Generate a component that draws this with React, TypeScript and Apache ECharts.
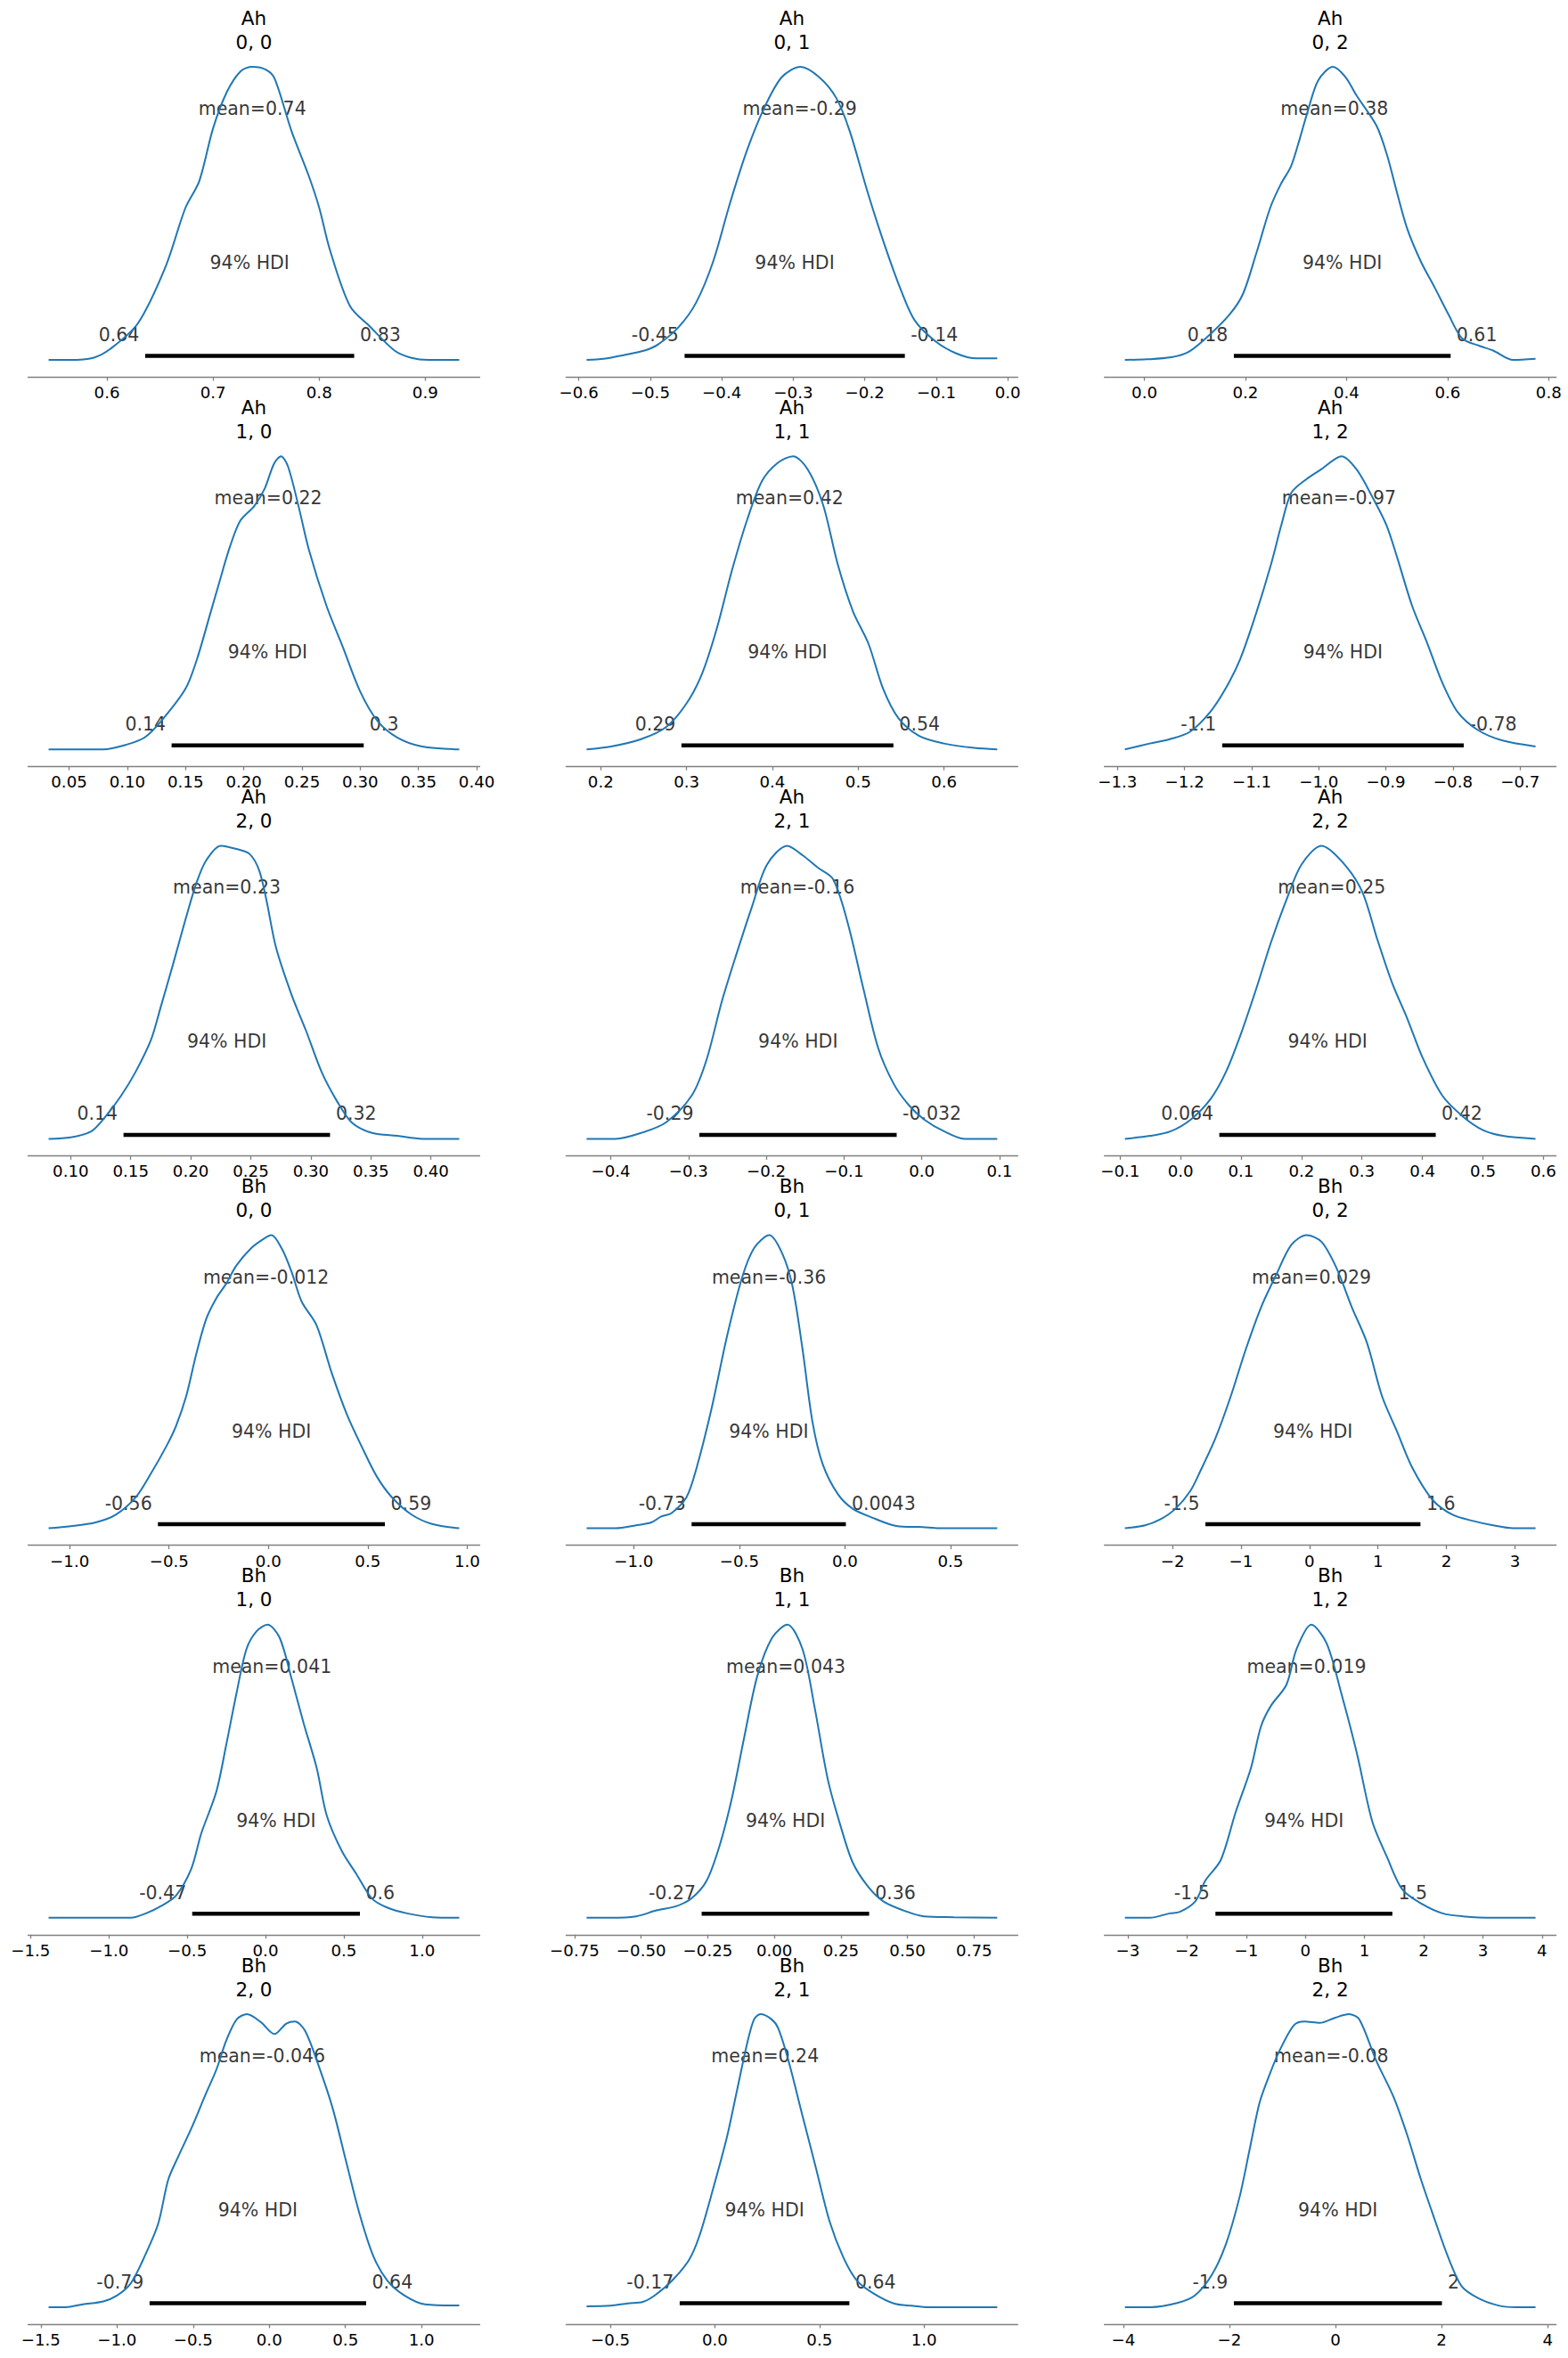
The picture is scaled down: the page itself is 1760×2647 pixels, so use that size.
import React, { useEffect, useRef } from "react";
import * as echarts from "echarts";

// ---------- data ----------
const varNames = ["Ah", "Ah", "Ah", "Ah", "Ah", "Ah", "Ah", "Ah", "Ah", "Bh", "Bh", "Bh", "Bh", "Bh", "Bh", "Bh", "Bh", "Bh"];
const coordLabels = ["0, 0", "0, 1", "0, 2", "1, 0", "1, 1", "1, 2", "2, 0", "2, 1", "2, 2", "0, 0", "0, 1", "0, 2", "1, 0", "1, 1", "1, 2", "2, 0", "2, 1", "2, 2"];
const means = [0.737, -0.291, 0.376, 0.221, 0.42, -0.97, 0.23, -0.16, 0.25, -0.012, -0.36, 0.029, 0.041, 0.043, 0.019, -0.046, 0.24, -0.08];
const hdiLow = [0.636, -0.452, 0.177, 0.138, 0.294, -1.144, 0.144, -0.286, 0.0641, -0.556, -0.726, -1.52, -0.468, -0.273, -1.52, -0.786, -0.168, -1.916];
const hdiHigh = [0.833, -0.144, 0.606, 0.303, 0.541, -0.784, 0.316, -0.0323, 0.422, 0.586, 0.0043, 1.62, 0.603, 0.356, 1.47, 0.636, 0.643, 2.006];

const ticks_Ah_0_0 = [0.6, 0.7, 0.8, 0.9];
const ticks_Ah_0_1 = [-0.6, -0.5, -0.4, -0.3, -0.2, -0.1, 0.0];
const ticks_Ah_0_2 = [0.0, 0.2, 0.4, 0.6, 0.8];
const ticks_Ah_1_0 = [0.05, 0.1, 0.15, 0.2, 0.25, 0.3, 0.35, 0.4];
const ticks_Ah_1_1 = [0.2, 0.3, 0.4, 0.5, 0.6];
const ticks_Ah_1_2 = [-1.3, -1.2, -1.1, -1.0, -0.9, -0.8, -0.7];
const ticks_Ah_2_0 = [0.1, 0.15, 0.2, 0.25, 0.3, 0.35, 0.4];
const ticks_Ah_2_1 = [-0.4, -0.3, -0.2, -0.1, 0.0, 0.1];
const ticks_Ah_2_2 = [-0.1, 0.0, 0.1, 0.2, 0.3, 0.4, 0.5, 0.6];
const ticks_Bh_0_0 = [-1.0, -0.5, 0.0, 0.5, 1.0];
const ticks_Bh_0_1 = [-1.0, -0.5, 0.0, 0.5];
const ticks_Bh_0_2 = [-2, -1, 0, 1, 2, 3];
const ticks_Bh_1_0 = [-1.5, -1.0, -0.5, 0.0, 0.5, 1.0];
const ticks_Bh_1_1 = [-0.75, -0.5, -0.25, 0.0, 0.25, 0.5, 0.75];
const ticks_Bh_1_2 = [-3, -2, -1, 0, 1, 2, 3, 4];
const ticks_Bh_2_0 = [-1.5, -1.0, -0.5, 0.0, 0.5, 1.0];
const ticks_Bh_2_1 = [-0.5, 0.0, 0.5, 1.0];
const ticks_Bh_2_2 = [-4, -2, 0, 2, 4];
const tickDecimals = [1, 1, 1, 2, 1, 1, 2, 1, 1, 1, 1, 0, 1, 2, 0, 1, 1, 0];

// relative density (peak = 1) along x
const kde_Ah_0_0 = [[0.545, 0], [0.5645, 0], [0.587, 0.007], [0.603, 0.037], [0.629, 0.124], [0.655, 0.316], [0.674, 0.519], [0.687, 0.61], [0.7, 0.79], [0.713, 0.914], [0.726, 0.985], [0.737, 1], [0.75, 0.99], [0.758, 0.96], [0.774, 0.78], [0.79, 0.63], [0.8, 0.52], [0.81, 0.377], [0.829, 0.184], [0.848, 0.113], [0.871, 0.032], [0.887, 0.007], [0.903, 0], [0.932, 0]];
const kde_Ah_0_1 = [[-0.589, 0], [-0.565, 0.004], [-0.536, 0.017], [-0.508, 0.032], [-0.489, 0.053], [-0.46, 0.113], [-0.436, 0.195], [-0.412, 0.336], [-0.388, 0.539], [-0.364, 0.72], [-0.34, 0.863], [-0.316, 0.965], [-0.29, 1], [-0.264, 0.965], [-0.24, 0.894], [-0.221, 0.78], [-0.197, 0.58], [-0.173, 0.397], [-0.149, 0.235], [-0.13, 0.134], [-0.101, 0.063], [-0.072, 0.022], [-0.044, 0.005], [-0.0148, 0.005]];
const kde_Ah_0_2 = [[-0.0386, 0], [0.005, 0.002], [0.053, 0.009], [0.087, 0.027], [0.121, 0.073], [0.168, 0.154], [0.195, 0.225], [0.222, 0.367], [0.249, 0.519], [0.27, 0.6], [0.29, 0.66], [0.307, 0.752], [0.324, 0.853], [0.344, 0.954], [0.373, 1], [0.398, 0.965], [0.419, 0.904], [0.459, 0.8], [0.48, 0.7], [0.5, 0.57], [0.52, 0.448], [0.547, 0.336], [0.575, 0.245], [0.602, 0.154], [0.629, 0.073], [0.663, 0.048], [0.69, 0.032], [0.73, 0], [0.774, 0.004]];
const kde_Ah_1_0 = [[0.0324, 0], [0.0676, 0], [0.0794, 0], [0.1, 0.017], [0.1147, 0.04], [0.129, 0.096], [0.15, 0.207], [0.16, 0.31], [0.171, 0.46], [0.179, 0.57], [0.188, 0.69], [0.197, 0.78], [0.209, 0.83], [0.218, 0.89], [0.226, 0.975], [0.232, 1], [0.238, 0.965], [0.247, 0.83], [0.256, 0.68], [0.271, 0.49], [0.285, 0.35], [0.3, 0.197], [0.315, 0.096], [0.332, 0.04], [0.353, 0.01], [0.385, 0]];
const kde_Ah_1_1 = [[0.1835, 0], [0.212, 0.01], [0.247, 0.035], [0.276, 0.076], [0.3, 0.157], [0.318, 0.258], [0.335, 0.41], [0.353, 0.612], [0.371, 0.787], [0.388, 0.916], [0.406, 0.977], [0.424, 1], [0.441, 0.956], [0.459, 0.835], [0.476, 0.633], [0.494, 0.47], [0.512, 0.36], [0.529, 0.207], [0.547, 0.106], [0.571, 0.046], [0.6, 0.02], [0.635, 0.005], [0.662, 0]];
const kde_Ah_1_2 = [[-1.289, 0], [-1.252, 0.02], [-1.222, 0.035], [-1.192, 0.06], [-1.162, 0.127], [-1.139, 0.207], [-1.117, 0.309], [-1.094, 0.46], [-1.071, 0.633], [-1.056, 0.764], [-1.041, 0.875], [-1.019, 0.921], [-0.996, 0.956], [-0.966, 1], [-0.944, 0.956], [-0.921, 0.865], [-0.899, 0.764], [-0.883, 0.653], [-0.861, 0.49], [-0.838, 0.36], [-0.816, 0.228], [-0.793, 0.127], [-0.763, 0.066], [-0.726, 0.03], [-0.677, 0.01]];
const kde_Ah_2_0 = [[0.0816, 0], [0.1, 0.005], [0.117, 0.025], [0.129, 0.076], [0.142, 0.147], [0.154, 0.228], [0.167, 0.339], [0.175, 0.45], [0.185, 0.592], [0.196, 0.754], [0.205, 0.876], [0.213, 0.951], [0.225, 1], [0.238, 0.989], [0.249, 0.972], [0.257, 0.916], [0.263, 0.815], [0.271, 0.653], [0.284, 0.491], [0.296, 0.369], [0.309, 0.228], [0.322, 0.127], [0.334, 0.056], [0.351, 0.02], [0.372, 0.01], [0.393, 0], [0.4236, 0]];
const kde_Ah_2_1 = [[-0.431, 0], [-0.394, 0], [-0.361, 0.02], [-0.329, 0.056], [-0.296, 0.147], [-0.277, 0.268], [-0.257, 0.47], [-0.238, 0.633], [-0.218, 0.795], [-0.199, 0.936], [-0.173, 1], [-0.153, 0.967], [-0.134, 0.926], [-0.114, 0.886], [-0.095, 0.734], [-0.075, 0.511], [-0.056, 0.309], [-0.036, 0.187], [-0.017, 0.116], [0.003, 0.066], [0.029, 0.025], [0.055, 0], [0.097, 0]];
const kde_Ah_2_2 = [[-0.092, 0], [-0.05, 0.01], [-0.017, 0.025], [0.017, 0.066], [0.05, 0.137], [0.075, 0.228], [0.1, 0.359], [0.125, 0.511], [0.15, 0.673], [0.175, 0.815], [0.2, 0.936], [0.233, 1], [0.267, 0.946], [0.3, 0.845], [0.325, 0.683], [0.35, 0.531], [0.375, 0.41], [0.4, 0.278], [0.433, 0.147], [0.467, 0.076], [0.5, 0.03], [0.533, 0.01], [0.587, 0]];
const kde_Bh_0_0 = [[-1.106, 0], [-0.995, 0.007], [-0.869, 0.02], [-0.768, 0.046], [-0.667, 0.106], [-0.591, 0.187], [-0.515, 0.278], [-0.465, 0.349], [-0.414, 0.45], [-0.364, 0.592], [-0.313, 0.714], [-0.263, 0.784], [-0.212, 0.835], [-0.162, 0.896], [-0.086, 0.956], [-0.025, 0.987], [0.015, 1], [0.066, 0.956], [0.116, 0.876], [0.167, 0.774], [0.242, 0.693], [0.318, 0.531], [0.394, 0.39], [0.47, 0.278], [0.545, 0.177], [0.621, 0.106], [0.722, 0.046], [0.823, 0.015], [0.96, 0]];
const kde_Bh_0_1 = [[-1.223, 0], [-1.085, 0], [-0.989, 0.01], [-0.917, 0.02], [-0.87, 0.04], [-0.822, 0.051], [-0.75, 0.106], [-0.702, 0.207], [-0.631, 0.41], [-0.559, 0.653], [-0.487, 0.855], [-0.43, 0.956], [-0.358, 1], [-0.296, 0.936], [-0.248, 0.825], [-0.201, 0.612], [-0.153, 0.36], [-0.105, 0.218], [-0.033, 0.116], [0.038, 0.066], [0.134, 0.035], [0.229, 0.01], [0.301, 0.005], [0.349, 0.005], [0.444, 0], [0.721, 0]];
const kde_Bh_0_2 = [[-2.695, 0], [-2.4, 0.01], [-2.18, 0.03], [-1.96, 0.066], [-1.74, 0.127], [-1.59, 0.197], [-1.37, 0.309], [-1.15, 0.45], [-0.928, 0.612], [-0.707, 0.754], [-0.486, 0.865], [-0.265, 0.967], [-0.044, 1], [0.177, 0.977], [0.398, 0.886], [0.619, 0.754], [0.839, 0.633], [1.06, 0.45], [1.28, 0.329], [1.5, 0.207], [1.8, 0.096], [2.09, 0.046], [2.39, 0.025], [2.68, 0.01], [2.97, 0], [3.3, 0]];
const kde_Bh_1_0 = [[-1.385, 0], [-1.18, 0], [-0.987, 0], [-0.859, 0], [-0.763, 0.015], [-0.667, 0.04], [-0.571, 0.076], [-0.474, 0.167], [-0.41, 0.288], [-0.314, 0.43], [-0.25, 0.592], [-0.186, 0.764], [-0.122, 0.916], [-0.058, 0.977], [0.013, 1], [0.09, 0.956], [0.167, 0.815], [0.244, 0.663], [0.327, 0.511], [0.391, 0.349], [0.487, 0.228], [0.583, 0.147], [0.679, 0.066], [0.776, 0.035], [0.904, 0.015], [1.064, 0.002], [1.237, 0]];
const kde_Bh_1_1 = [[-0.705, 0], [-0.614, 0], [-0.519, 0.005], [-0.443, 0.025], [-0.367, 0.04], [-0.311, 0.066], [-0.254, 0.127], [-0.205, 0.248], [-0.159, 0.41], [-0.114, 0.612], [-0.064, 0.825], [-0.008, 0.956], [0.049, 1], [0.106, 0.916], [0.152, 0.714], [0.201, 0.471], [0.25, 0.309], [0.295, 0.187], [0.352, 0.106], [0.409, 0.056], [0.485, 0.025], [0.561, 0.005], [0.674, 0.002], [0.837, 0]];
const kde_Bh_1_2 = [[-3.05, 0], [-2.63, 0], [-2.29, 0.015], [-2.12, 0.02], [-1.86, 0.056], [-1.69, 0.127], [-1.43, 0.197], [-1.18, 0.359], [-0.92, 0.511], [-0.75, 0.653], [-0.58, 0.724], [-0.32, 0.795], [-0.15, 0.916], [0.1, 1], [0.36, 0.936], [0.61, 0.764], [0.87, 0.562], [1.13, 0.329], [1.38, 0.207], [1.64, 0.096], [1.98, 0.046], [2.32, 0.015], [2.66, 0.005], [3.17, 0], [3.89, 0]];
const kde_Bh_2_0 = [[-1.449, 0], [-1.336, 0], [-1.224, 0.01], [-1.09, 0.02], [-1.0, 0.04], [-0.91, 0.081], [-0.82, 0.172], [-0.73, 0.284], [-0.663, 0.436], [-0.595, 0.517], [-0.505, 0.618], [-0.416, 0.729], [-0.348, 0.81], [-0.281, 0.912], [-0.213, 0.983], [-0.146, 1], [-0.056, 0.973], [0.034, 0.932], [0.112, 0.968], [0.168, 0.975], [0.236, 0.942], [0.326, 0.821], [0.416, 0.679], [0.505, 0.496], [0.595, 0.314], [0.685, 0.172], [0.775, 0.091], [0.888, 0.04], [1.022, 0.01], [1.247, 0.006]];
const kde_Bh_2_1 = [[-0.613, 0.003], [-0.499, 0.005], [-0.417, 0.013], [-0.344, 0.018], [-0.286, 0.041], [-0.204, 0.091], [-0.123, 0.162], [-0.074, 0.243], [-0.008, 0.405], [0.057, 0.578], [0.106, 0.74], [0.155, 0.902], [0.188, 0.983], [0.218, 1], [0.27, 0.983], [0.303, 0.952], [0.352, 0.841], [0.417, 0.659], [0.483, 0.476], [0.548, 0.294], [0.613, 0.172], [0.679, 0.091], [0.761, 0.046], [0.859, 0.012], [0.94, 0.005], [1.022, 0], [1.186, 0], [1.35, 0]];
const kde_Bh_2_2 = [[-3.97, 0], [-3.49, 0], [-2.97, 0.015], [-2.65, 0.04], [-2.33, 0.111], [-2.07, 0.213], [-1.81, 0.375], [-1.62, 0.537], [-1.43, 0.699], [-1.23, 0.8], [-1.04, 0.881], [-0.78, 0.963], [-0.587, 0.975], [-0.297, 0.97], [-0.006, 0.988], [0.252, 1], [0.445, 0.983], [0.768, 0.841], [1.09, 0.719], [1.35, 0.588], [1.61, 0.436], [1.86, 0.304], [2.12, 0.172], [2.38, 0.071], [2.7, 0.03], [3.09, 0.005], [3.41, 0], [3.77, 0]];

const kdes = [kde_Ah_0_0, kde_Ah_0_1, kde_Ah_0_2, kde_Ah_1_0, kde_Ah_1_1, kde_Ah_1_2, kde_Ah_2_0, kde_Ah_2_1, kde_Ah_2_2, kde_Bh_0_0, kde_Bh_0_1, kde_Bh_0_2, kde_Bh_1_0, kde_Bh_1_1, kde_Bh_1_2, kde_Bh_2_0, kde_Bh_2_1, kde_Bh_2_2];
const ticks = [ticks_Ah_0_0, ticks_Ah_0_1, ticks_Ah_0_2, ticks_Ah_1_0, ticks_Ah_1_1, ticks_Ah_1_2, ticks_Ah_2_0, ticks_Ah_2_1, ticks_Ah_2_2, ticks_Bh_0_0, ticks_Bh_0_1, ticks_Bh_0_2, ticks_Bh_1_0, ticks_Bh_1_1, ticks_Bh_1_2, ticks_Bh_2_0, ticks_Bh_2_1, ticks_Bh_2_2];

// ---------- layout ----------
const W = 1760;
const H = 2647;
const COL_LEFT = [31.5, 635.4, 1239.6];
const GRID_W = 507;
const AXIS_Y0 = 423;
const ROW_STEP = 437.2;
const PX_PER_UNIT = 329;
const BASE_OFF = 19;
const GRID_H = 365;
const FONT = "DejaVu Sans";
const Y_MEAN = 282 / PX_PER_UNIT;
const Y_HDI = 109 / PX_PER_UNIT;
const Y_VAL = 28 / PX_PER_UNIT;
const Y_BAR = 4.5 / PX_PER_UNIT;

const fmtSig = (v: number) => String(Number(v.toPrecision(2)));

function buildOption() {
  const grid: any[] = [];
  const xAxis: any[] = [];
  const yAxis: any[] = [];
  const series: any[] = [];
  const graphic: any[] = [];

  kdes.forEach((kde, i) => {
    const r = Math.floor(i / 3);
    const c = i % 3;
    const A = AXIS_Y0 + r * ROW_STEP;
    const xs = kde.map((p) => p[0]);
    const lo = Math.min(...xs);
    const hi = Math.max(...xs);
    const pad = 0.05 * (hi - lo);
    const dec = tickDecimals[i];

    grid.push({ left: COL_LEFT[c], top: A - GRID_H, width: GRID_W, height: GRID_H });
    xAxis.push({
      gridIndex: i,
      type: "value",
      min: lo - pad,
      max: hi + pad,
      axisLine: { show: true, onZero: false, lineStyle: { color: "#808080", width: 1.3 } },
      axisTick: { show: true, customValues: ticks[i], length: 4.5, lineStyle: { color: "#808080", width: 1.3 } },
      axisLabel: {
        show: true,
        customValues: ticks[i],
        formatter: (v: number) => v.toFixed(dec).replace("-", "\u2212"),
        fontSize: 18.2,
        fontFamily: FONT,
        color: "#000",
        margin: 8.5,
      },
      splitLine: { show: false },
    });
    yAxis.push({
      gridIndex: i,
      type: "value",
      min: -BASE_OFF / PX_PER_UNIT,
      max: (GRID_H - BASE_OFF) / PX_PER_UNIT,
      show: false,
    });

    series.push({
      type: "line",
      xAxisIndex: i,
      yAxisIndex: i,
      data: kde,
      symbol: "none",
      showSymbol: false,
      smooth: 0.3,
      clip: false,
      silent: true,
      lineStyle: { color: "#1f77b4", width: 2 },
    });
    series.push({
      type: "line",
      xAxisIndex: i,
      yAxisIndex: i,
      data: [[hdiLow[i], Y_BAR], [hdiHigh[i], Y_BAR]],
      symbol: "none",
      showSymbol: false,
      silent: true,
      lineStyle: { color: "#000", width: 4.5, cap: "butt" },
    });
    const lab = { show: true, color: "#000", fontSize: 20.5, fontFamily: FONT };
    series.push({
      type: "scatter",
      xAxisIndex: i,
      yAxisIndex: i,
      symbolSize: 0.1,
      silent: true,
      clip: false,
      itemStyle: { color: "rgba(0,0,0,0)" },
      data: [
        { value: [means[i], Y_MEAN], label: { ...lab, position: "inside", formatter: "mean=" + fmtSig(means[i]) } },
        { value: [(hdiLow[i] + hdiHigh[i]) / 2, Y_HDI], label: { ...lab, position: "inside", formatter: "94% HDI" } },
        { value: [hdiLow[i], Y_VAL], label: { ...lab, position: "left", distance: 6.5, formatter: fmtSig(hdiLow[i]) } },
        { value: [hdiHigh[i], Y_VAL], label: { ...lab, position: "right", distance: 6.5, formatter: fmtSig(hdiHigh[i]) } },
      ],
    });

    const cx = COL_LEFT[c] + GRID_W / 2;
    [
      { t: varNames[i], y: A - 403 },
      { t: coordLabels[i], y: A - 376 },
    ].forEach((ln) => {
      graphic.push({
        type: "text",
        x: cx,
        y: ln.y,
        silent: true,
        style: {
          text: ln.t,
          fontSize: 21.5,
          fontFamily: FONT,
          fill: "#000",
          align: "center",
          verticalAlign: "middle",
          textAlign: "center",
          textVerticalAlign: "middle",
        },
      });
    });
  });

  return {
    animation: false,
    backgroundColor: "#ffffff",
    grid,
    xAxis,
    yAxis,
    series,
    graphic,
  };
}

export default function App() {
  const ref = useRef<HTMLDivElement>(null);
  useEffect(() => {
    if (!ref.current) return;
    const chart = echarts.init(ref.current, undefined, { renderer: "svg", width: W, height: H });
    chart.setOption(buildOption() as any);
    return () => chart.dispose();
  }, []);
  return (
    <div
      ref={ref}
      style={{ position: "absolute", left: 0, top: 0, width: W, height: H, background: "#fff" }}
    />
  );
}
